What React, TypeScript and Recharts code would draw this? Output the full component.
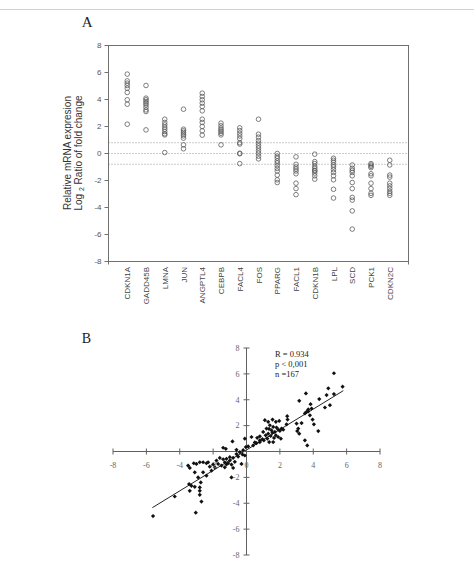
import React from 'react';
import { ScatterChart, Scatter, XAxis, YAxis, ReferenceLine, Label } from 'recharts';

// ---------- Panel A data ----------
const GENES = ['CDKN1A', 'GADD45B', 'LMNA', 'JUN', 'ANGPTL4', 'CEBPB', 'FACL4', 'FOS', 'PPARG', 'FACL1', 'CDKN1B', 'LPL', 'SCD', 'PCK1', 'CDKN2C'];
const CDKN1A = [5.88, 5.38, 5.21, 5.04, 4.84, 4.52, 3.98, 3.65, 2.17];
const GADD45B = [5.04, 4.1, 3.98, 3.85, 3.73, 3.6, 3.43, 3.23, 3.11, 1.75];
const LMNA = [2.54, 2.3, 2.12, 1.95, 1.8, 1.63, 1.46, 1.38, 0.07];
const JUN = [3.28, 1.8, 1.68, 1.56, 1.43, 1.31, 1.14, 0.64, 0.35];
const ANGPTL4 = [4.47, 4.22, 3.98, 3.73, 3.48, 3.16, 2.54, 2.3, 2.0, 1.68, 1.36];
const CEBPB = [2.25, 2.05, 1.88, 1.75, 1.63, 1.5, 1.38, 0.64];
const FACL4 = [1.9, 1.7, 1.5, 1.3, 1.1, 0.8, 0.7, 0.02, -0.02, -0.75];
const FOS = [2.54, 1.43, 1.21, 0.96, 0.77, 0.57, 0.4, 0.2, 0.02, -0.2, -0.4];
const PPARG = [0.0, -0.2, -0.35, -0.55, -0.7, -0.9, -1.1, -1.3, -1.6, -1.95, -2.15];
const FACL1 = [-0.25, -0.8, -1.0, -1.15, -1.3, -1.5, -2.2, -2.6, -3.05];
const CDKN1B = [-0.05, -0.6, -0.75, -0.95, -1.1, -1.25, -1.3, -1.45, -1.65, -1.9];
const LPL = [-0.35, -0.5, -0.65, -0.85, -1.0, -1.2, -1.4, -1.65, -1.95, -2.65, -3.3];
const SCD = [-0.85, -1.1, -1.25, -1.4, -1.65, -2.15, -2.6, -3.25, -3.45, -4.25, -5.6];
const PCK1 = [-0.75, -0.85, -0.95, -1.05, -1.5, -1.65, -2.2, -2.6, -2.95, -3.1];
const CDKN2C = [-0.5, -0.85, -1.6, -1.75, -2.2, -2.4, -2.6, -2.8, -2.95, -3.1];
const GENE_VALUES = [CDKN1A, GADD45B, LMNA, JUN, ANGPTL4, CEBPB, FACL4, FOS, PPARG, FACL1, CDKN1B, LPL, SCD, PCK1, CDKN2C];
const A_Y_TICKS = [-8, -6, -4, -2, 0, 2, 4, 6, 8];
const A_X_TICKS = [0, 1, 2, 3, 4, 5, 6, 7, 8, 9, 10, 11, 12, 13, 14, 15, 16];
const A_X_DOMAIN = [0, 16];
const A_Y_DOMAIN = [-8, 8];
const THRESHOLDS = [0.8, 0, -0.8];

const panelAData = GENES.flatMap((g, i) => GENE_VALUES[i].map((v) => ({ pos: i + 1, value: v, gene: g })));

// ---------- Panel B data ----------
const B_POINTS: [number, number][] = [
  [5.24, 6.05], [5.76, 5.01], [4.9, 4.88], [4.8, 4.36], [5.24, 4.44], [4.36, 4.05], [3.16, 3.92], [3.56, 4.49],
  [5.0, 3.58], [4.7, 3.4], [3.84, 3.66], [3.9, 3.32], [3.7, 3.25], [3.6, 3.06], [3.5, 2.94], [3.8, 2.8],
  [3.96, 2.47], [4.04, 2.1], [4.3, 1.58], [3.5, 0.86], [3.64, 0.47], [3.0, 2.16], [3.1, 1.77], [3.04, 1.58],
  [3.16, 1.38], [2.44, 2.73], [2.46, 2.47], [2.4, 2.1], [3.3, 2.2], [3.7, 3.1],
  [1.1, 2.42], [1.3, 2.29], [1.56, 2.47], [1.76, 2.29], [1.96, 2.36], [1.4, 2.03], [1.6, 1.9], [1.2, 1.77],
  [1.5, 1.64], [1.7, 1.51], [1.9, 1.69], [2.1, 1.77], [2.2, 1.69], [2.06, 0.99], [1.0, 1.51], [1.3, 1.38],
  [0.8, 1.17], [0.64, 1.06], [1.04, 0.86], [1.36, 0.73], [1.6, 0.73], [0.8, 0.73], [0.6, 0.65], [0.4, 0.47],
  [0.3, 1.12], [-0.1, 0.99], [-0.04, 0.34], [0.1, 0.39], [0.8, 0.86], [1.76, 1.25], [1.9, 1.12], [1.45, 1.2],
  [1.25, 1.0], [1.55, 1.45], [1.65, 1.05], [1.15, 1.25], [2.0, 1.6], [1.8, 1.85], [1.35, 1.75], [0.95, 0.95], [0.5, 0.7],
  [-0.84, 0.78], [-1.4, 0.29], [-1.24, 0.21], [-0.6, 0.13], [-0.4, -0.05], [-0.24, -0.23], [-0.5, -0.39], [-0.8, -0.49],
  [-1.0, -0.44], [-1.2, -0.57], [-1.3, -0.83], [-1.1, -0.91], [-0.9, -1.01], [-0.8, -1.27], [-1.3, -1.22], [-1.5, -1.09],
  [-1.7, -0.96], [-1.8, -0.7], [-1.9, -1.22], [-2.1, -1.48], [-2.2, -1.17], [-2.4, -0.91], [-2.3, -0.83], [-2.6, -0.83],
  [-2.8, -0.83], [-3.0, -0.96], [-3.16, -0.91], [-3.5, -1.09], [-3.4, -1.27], [-3.1, -1.61], [-2.9, -2.0], [-2.6, -1.61],
  [-2.4, -1.87], [-2.74, -2.39], [-2.8, -2.78], [-2.8, -3.04], [-2.8, -3.35], [-2.7, -3.87], [-3.1, -2.73], [-3.3, -2.65],
  [-3.44, -2.52], [-3.4, -3.04], [-3.04, -4.73], [-4.3, -3.48], [-5.6, -4.99], [-0.9, -2.0], [-0.3, -0.96], [-0.1, -0.31],
  [-1.6, -0.5], [-1.0, -0.7], [-0.7, -0.8], [-1.4, -0.6], [-2.0, -1.0], [-1.2, -1.0], [-0.6, -0.2], [-0.2, 0.1],
];
const FIT_LINE = [{ x: -5.64, y: -4.34 }, { x: 5.8, y: 4.7 }];
const B_TICKS = [-8, -6, -4, -2, 0, 2, 4, 6, 8];
const STATS = ['R = 0.934', 'p < 0,001', 'n =167'];

const panelBData = B_POINTS.map(([x, y]) => ({ x, y }));

// ---------- Styling / layout ----------
const SANS = '"Liberation Sans", Arial, sans-serif';
const SERIF = '"Liberation Serif", "Times New Roman", serif';
const A_AXIS = '#707070';
const B_AXIS = '#606060';

const A_W = 474, A_H = 320;
const A_MARGIN = { top: 45.5, right: 65.5, bottom: 8.5, left: 68.5 };

const B_W = 474, B_H = 251;
const B_MARGIN = { top: 18, right: 94, bottom: 6, left: 93 };
const B_PLOT_W = B_W - B_MARGIN.left - B_MARGIN.right - 20;
const B_PLOT_H = B_H - B_MARGIN.top - B_MARGIN.bottom - 20;

const OpenCircle = (p: any) => (
  <circle cx={p.cx} cy={p.cy} r={2.3} fill="none" stroke="#555" strokeWidth={0.75} />
);

const Nothing = () => <g />;

const Diamond = (p: any) => {
  const r = 2.1;
  return (
    <polygon
      points={`${p.cx},${p.cy - r} ${p.cx + r},${p.cy} ${p.cx},${p.cy + r} ${p.cx - r},${p.cy}`}
      fill="#111"
    />
  );
};

const GeneTick = (props: any) => {
  const { x, y, payload } = props;
  const v = payload.value;
  if (v === A_X_DOMAIN[0] || v === A_X_DOMAIN[1]) {
    return <line x1={x} y1={y} x2={x} y2={y + 3} stroke={A_AXIS} />;
  }
  const tx = x + 3;
  const ty = y + 5.5;
  return (
    <text x={tx} y={ty} transform={`rotate(-90 ${tx} ${ty})`} textAnchor="end" fontSize={8} fontFamily={SANS} fill="#444">
      {GENES[v - 1]}
    </text>
  );
};

const AYTick = (props: any) => {
  const { x, y, payload } = props;
  return (
    <g>
      <line x1={x - 4} y1={y} x2={x} y2={y} stroke={A_AXIS} />
      <text x={x - 7} y={y + 2.8} textAnchor="end" fontSize={8} fontFamily={SANS} fill="#555">{payload.value}</text>
    </g>
  );
};

const AYLabel = () => (
  <g fontFamily={SANS} fontSize={10} fill="#333">
    <text x={70.7} y={153} transform="rotate(-90 70.7 153)" textAnchor="middle">Relative mRNA expresion</text>
    <text x={81.7} y={153} transform="rotate(-90 81.7 153)" textAnchor="middle">
      Log <tspan fontSize={7} dy={2}>2</tspan><tspan dy={-2}> Ratio of fold change</tspan>
    </text>
  </g>
);

const BXTick = (props: any) => {
  const { x, y, payload } = props;
  const ay = y - B_PLOT_H / 2;
  return (
    <g>
      <line x1={x} y1={ay - 3} x2={x} y2={ay + 3} stroke={B_AXIS} />
      <text x={x} y={ay + 16} textAnchor="middle" fontSize={8} fontFamily={SERIF} fill="#666">{payload.value}</text>
    </g>
  );
};

const BYTick = (props: any) => {
  const { x, y, payload } = props;
  const ax = x + B_PLOT_W / 2;
  return (
    <g>
      <line x1={ax - 3} y1={y} x2={ax + 3} y2={y} stroke={B_AXIS} />
      {payload.value !== 0 && (
        <text x={ax - 7} y={y + 2.8} textAnchor="end" fontSize={8} fontFamily={SERIF} fill="#666">{payload.value}</text>
      )}
    </g>
  );
};

export default function App() {
  return (
    <div style={{ position: 'absolute', left: 0, top: 0, width: 474, height: 561, background: '#fff', overflow: 'hidden' }}>
      <div style={{ position: 'absolute', left: 0, top: 9, width: 474, height: 1, background: '#d0d0d0' }} />

      <div style={{ position: 'absolute', left: 0, top: 0 }}>
        <ScatterChart width={A_W} height={A_H} margin={A_MARGIN}>
          <XAxis
            type="number" dataKey="pos" domain={A_X_DOMAIN} ticks={A_X_TICKS} interval={0}
            tick={(p: any) => <GeneTick {...p} />} tickLine={false} axisLine={false} tickSize={0} tickMargin={0}
            height={50} allowDataOverflow
          />
          <YAxis
            type="number" dataKey="value" domain={A_Y_DOMAIN} ticks={A_Y_TICKS} interval={0}
            width={40} tickSize={0} tickMargin={0} tickLine={false} axisLine={false}
            tick={(p: any) => <AYTick {...p} />} allowDataOverflow
          >
            <Label content={() => <AYLabel />} />
          </YAxis>
          {THRESHOLDS.map((t) => (
            <ReferenceLine key={t} y={t} stroke="#999" strokeDasharray="1 2" strokeWidth={1} />
          ))}
          <ReferenceLine y={A_Y_DOMAIN[1]} stroke={A_AXIS} strokeWidth={1} ifOverflow="visible" />
          <ReferenceLine y={A_Y_DOMAIN[0]} stroke={A_AXIS} strokeWidth={1} ifOverflow="visible" />
          <ReferenceLine x={A_X_DOMAIN[0]} stroke={A_AXIS} strokeWidth={1} ifOverflow="visible" />
          <ReferenceLine x={A_X_DOMAIN[1]} stroke={A_AXIS} strokeWidth={1} ifOverflow="visible" />
          <Scatter data={panelAData} shape={OpenCircle} isAnimationActive={false} />
        </ScatterChart>
      </div>

      {/* plot frame of panel A (matches the chart's plot area: margins above) */}
      <div
        style={{
          position: 'absolute', left: 108, top: 45, width: 299, height: 215,
          border: `1px solid ${A_AXIS}`, pointerEvents: 'none',
        }}
      />

      <div style={{ position: 'absolute', left: 0, top: 330 }}>
        <ScatterChart width={B_W} height={B_H} margin={B_MARGIN}>
          <XAxis
            type="number" dataKey="x" domain={[-8, 8]} ticks={B_TICKS} interval={0}
            tick={(p: any) => <BXTick {...p} />} tickLine={false} axisLine={false}
            tickSize={0} tickMargin={0} height={20} allowDataOverflow
          />
          <YAxis
            type="number" dataKey="y" domain={[-8, 8]} ticks={B_TICKS} interval={0}
            tick={(p: any) => <BYTick {...p} />} tickLine={false} axisLine={false}
            tickSize={0} tickMargin={0} width={20} allowDataOverflow
          />
          <ReferenceLine x={0} stroke={B_AXIS} />
          <ReferenceLine y={0} stroke={B_AXIS} />
          <Scatter data={FIT_LINE} line={{ stroke: '#222', strokeWidth: 1 }} shape={Nothing} isAnimationActive={false} />
          <Scatter data={panelBData} shape={Diamond} isAnimationActive={false} />
        </ScatterChart>
      </div>

      <svg style={{ position: 'absolute', left: 0, top: 0 }} width={474} height={561} pointerEvents="none">
        <text x={81.7} y={26.7} fontFamily={SERIF} fontSize={15} fill="#222">A</text>
        <text x={81.7} y={343.3} fontFamily={SERIF} fontSize={14} fill="#222">B</text>
        {STATS.map((s, i) => (
          <text key={s} x={275} y={357.3 + i * 10} fontFamily={SERIF} fontSize={8.5} fill="#222">{s}</text>
        ))}
      </svg>
    </div>
  );
}
